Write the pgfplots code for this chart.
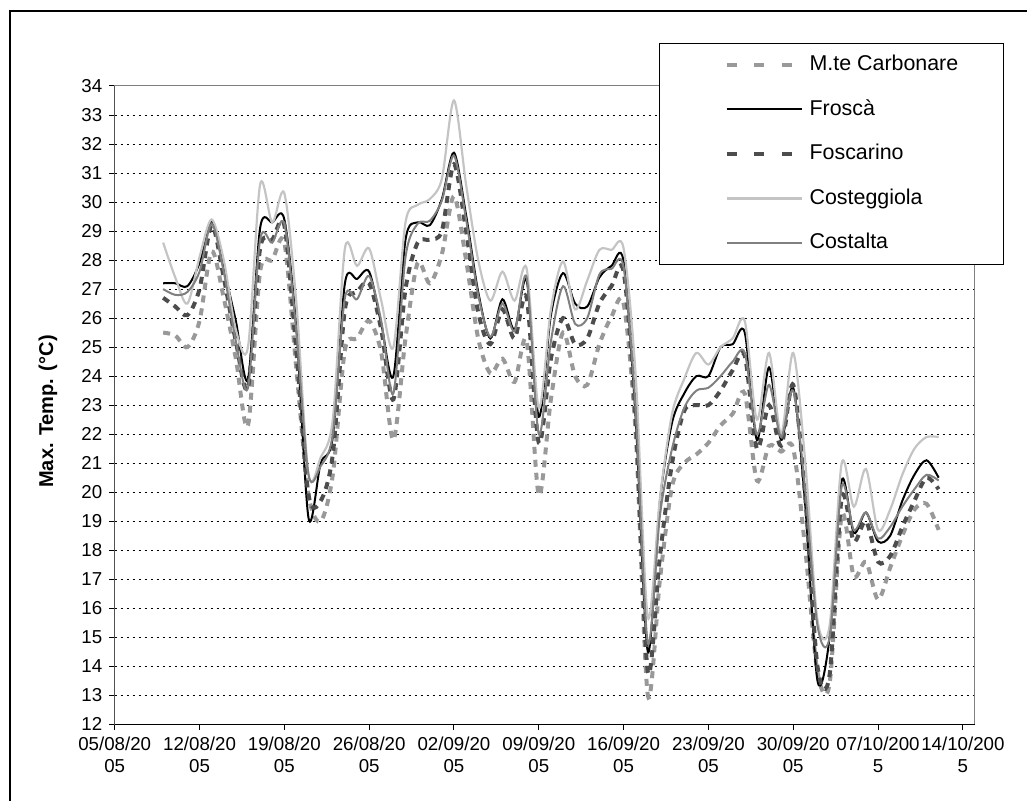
\documentclass[border=0pt]{standalone}
\usepackage{fontspec}
\setmainfont{Liberation Sans}
\usepackage{pgfplots}
\pgfplotsset{compat=1.18}
\usepackage{pgfplotstable}
\definecolor{mcol}{HTML}{999999}
\definecolor{focol}{HTML}{4D4D4D}
\definecolor{cgcol}{HTML}{C4C4C4}
\definecolor{cacol}{HTML}{808080}

\pgfplotstableread{
d MC FR FO CG CA
4 25.5 27.2 26.7 28.6 27.0
5 25.4 27.2 26.4 27.4 26.8
6 25.0 27.1 26.1 26.5 26.9
7 25.9 27.9 27.0 28.1 27.6
8 28.3 29.35 29.2 29.4 29.25
9 26.7 27.7 27.4 28.0 27.6
10 24.6 25.9 25.2 25.6 25.2
11 22.3 23.9 23.6 25.0 23.6
12 27.6 29.1 28.4 30.6 28.7
13 28.0 29.3 28.7 29.3 28.6
14 28.6 29.4 29.2 30.3 29.25
15 24.2 25.6 24.8 26.5 25.5
16 19.9 19.1 19.9 20.6 20.6
17 19.0 21.0 19.7 21.2 20.9
18 20.6 21.9 21.3 22.5 22.0
19 24.9 27.2 26.3 28.4 26.7
20 25.3 27.35 26.9 27.8 26.65
21 25.9 27.6 27.2 28.4 27.45
22 24.8 25.8 25.6 26.6 25.9
23 21.8 24.0 23.2 25.0 23.4
24 25.3 28.7 27.0 29.3 28.1
25 27.9 29.3 28.6 29.9 29.25
26 27.2 29.2 28.7 30.1 29.35
27 28.2 30.1 29.0 30.8 30.05
28 30.2 31.7 31.3 33.5 31.6
29 28.0 29.55 29.0 30.6 29.4
30 25.3 26.9 26.2 28.0 26.8
31 24.1 25.3 25.1 26.6 25.35
32 24.6 26.65 26.3 27.6 26.5
33 23.8 25.6 25.3 26.6 25.55
34 25.2 27.3 26.7 27.7 27.4
35 19.9 22.6 21.7 22.9 22.0
36 23.2 26.1 24.6 26.3 25.2
37 25.5 27.55 26.0 27.95 27.1
38 24.0 26.5 25.1 26.3 25.8
39 23.7 26.4 25.3 27.3 26.0
40 25.1 27.4 26.5 28.35 27.5
41 26.05 27.8 27.1 28.35 27.7
42 26.5 27.95 27.6 28.4 27.75
43 22.0 22.5 22.5 24.0 22.8
44 13.0 14.5 13.8 15.7 14.8
45 17.0 19.7 17.8 19.8 19.2
46 20.2 22.4 21.0 22.7 21.5
47 21.0 23.4 22.8 23.9 22.9
48 21.3 24.0 23.0 24.8 23.5
49 21.7 24.0 23.0 24.4 23.6
50 22.3 25.0 23.5 25.0 24.0
51 22.7 25.1 24.2 25.3 24.5
52 23.4 25.5 24.7 25.9 24.8
53 20.4 21.8 21.5 22.5 22.0
54 21.6 24.3 23.0 24.8 23.7
55 21.4 21.8 21.6 22.0 21.9
56 21.5 23.6 23.7 24.8 23.5
57 18.0 19.5 19.8 21.0 20.0
58 13.8 13.5 14.0 15.6 15.4
59 13.4 15.0 13.7 15.4 15.0
60 19.2 20.4 19.8 21.0 20.2
61 17.1 18.6 18.3 19.5 18.7
62 17.6 19.3 19.0 20.8 19.3
63 16.3 18.3 17.6 18.7 18.4
64 17.4 18.5 17.8 19.4 18.8
65 18.5 19.7 18.8 20.6 19.5
66 19.4 20.6 19.7 21.5 20.1
67 19.6 21.1 20.5 21.9 20.6
68 18.7 20.5 20.1 21.9 20.4
}\temps

\begin{document}
\begin{tikzpicture}
\begin{axis}[
  at={(0,0)}, anchor=south west,
  scale only axis, width=430.15pt, height=319.15pt,
  xmin=0, xmax=71, ymin=12, ymax=34,
  xtick={0,7,...,70},
  xticklabels={{05/08/20\\05},{12/08/20\\05},{19/08/20\\05},{26/08/20\\05},{02/09/20\\05},{09/09/20\\05},{16/09/20\\05},{23/09/20\\05},{30/09/20\\05},{07/10/200\\5},{14/10/200\\5}},
  xticklabel style={align=center, font=\fontsize{9.35}{10.85}\selectfont},
  ytick={12,13,...,34},
  yticklabel style={font=\fontsize{9.35}{11}\selectfont},
  /pgf/number format/assume math mode=true,
  ymajorgrids,
  grid style={black, line width=0.5pt, dash pattern=on 1pt off 2pt},
  axis line style={draw=cacol, line width=0.5pt},
  tick style={black, line width=0.5pt},
  tick align=outside, tick pos=left,
  major tick length=2.7pt,
  every axis y label/.style={at={(axis description cs:-0.0775,0.49)}, rotate=90, anchor=center, font=\fontsize{10}{12}\selectfont\bfseries},
  ylabel={\bfseries Max. Temp. (°C)},
  legend style={at={(axis description cs:0.6327,1.0674)}, anchor=north west,
    draw=black, line width=0.5pt, fill=white,
    font=\fontsize{10.7}{12.8}\selectfont,
    inner xsep=21pt, inner ysep=4.3pt, row sep=9.5pt,
    nodes={inner sep=1.5pt, text depth=0.2em}, cells={anchor=west}},
  legend cell align=left,
]
\addplot[mcol, line width=2pt, dash pattern=on 3.5pt off 3pt, smooth, tension=0.5,
  legend image code/.code={\path (0,0) (49pt,0); \draw[mcol, line width=2.2pt, dash pattern=on 5pt off 8.8pt] (11.5pt,0) -- (49pt,0);}]
  table[x=d, y=MC] {\temps};
\addlegendentry{M.te Carbonare}
\addplot[black, line width=1pt, smooth, tension=0.5,
  legend image code/.code={\path (0,0) (51pt,0); \draw[black, line width=1pt] (11.5pt,0) -- (49pt,0);}]
  table[x=d, y=FR] {\temps};
\addlegendentry{Froscà}
\addplot[focol, line width=2pt, dash pattern=on 3.5pt off 3pt, smooth, tension=0.5,
  legend image code/.code={\path (0,0) (49pt,0); \draw[focol, line width=2.2pt, dash pattern=on 5pt off 8.8pt] (11.5pt,0) -- (49pt,0);}]
  table[x=d, y=FO] {\temps};
\addlegendentry{Foscarino}
\addplot[cgcol, line width=1.1pt, smooth, tension=0.5,
  legend image code/.code={\path (0,0) (51pt,0); \draw[cgcol, line width=1.1pt] (11.5pt,0) -- (49pt,0);}]
  table[x=d, y=CG] {\temps};
\addlegendentry{Costeggiola}
\addplot[cacol, line width=1pt, smooth, tension=0.5,
  legend image code/.code={\path (0,0) (51pt,0); \draw[cacol, line width=1pt] (11.5pt,0) -- (49pt,0);}]
  table[x=d, y=CA] {\temps};
\addlegendentry{Costalta}
\draw[black, line width=0.6pt] (rel axis cs:0,1) -- (rel axis cs:0,0) -- (rel axis cs:1,0);
\end{axis}
\draw[black, line width=0.75pt] (-52.35pt,-45pt) -- (-52.35pt,356.65pt) -- (465pt,356.65pt);
\pgfresetboundingbox
\path[use as bounding box] (-57.35pt,-38.35pt) rectangle (456.15pt,362.15pt);
\end{tikzpicture}
\end{document}
